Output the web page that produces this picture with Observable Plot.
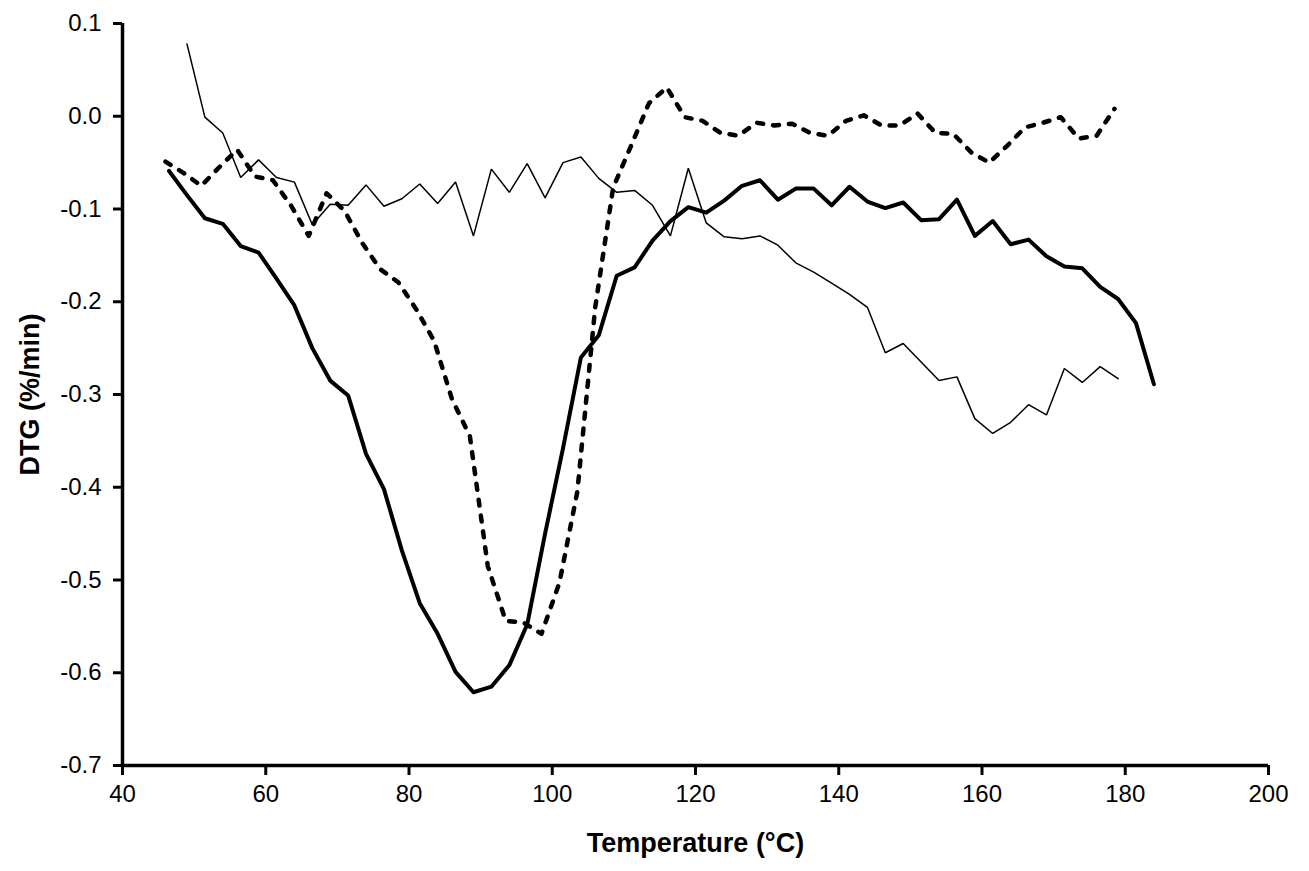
<!DOCTYPE html>
<html>
<head>
<meta charset="utf-8">
<script src="https://cdn.jsdelivr.net/npm/d3@7"></script>
<script src="https://cdn.jsdelivr.net/npm/@observablehq/plot@0.6"></script>
<style>
  html, body { margin: 0; padding: 0; background: #fff; }
  #chart svg { display: block; }
  #chart svg g[aria-label="x-axis tick label"] text,
  #chart svg g[aria-label="y-axis tick label"] text { font-size: 24px; }
</style>
</head>
<body>
<div id="chart"></div>
<script>
// Thick solid series
const tempsA = [46.5,49,51.5,54,56.5,59,61.5,64,66.5,69,71.5,74,76.5,79,81.5,84,86.5,89,91.5,94,96.5,99,101.5,104,106.5,109,111.5,114,116.5,119,121.5,124,126.5,129,131.5,134,136.5,139,141.5,144,146.5,149,151.5,154,156.5,159,161.5,164,166.5,169,171.5,174,176.5,179,181.5,184];
const dtgA = [-0.059,-0.085,-0.110,-0.116,-0.140,-0.147,-0.175,-0.204,-0.250,-0.285,-0.301,-0.364,-0.402,-0.468,-0.525,-0.558,-0.599,-0.621,-0.615,-0.592,-0.548,-0.450,-0.358,-0.260,-0.236,-0.172,-0.163,-0.134,-0.113,-0.098,-0.104,-0.091,-0.075,-0.069,-0.090,-0.078,-0.078,-0.096,-0.076,-0.092,-0.099,-0.093,-0.112,-0.111,-0.090,-0.129,-0.113,-0.138,-0.133,-0.151,-0.162,-0.164,-0.184,-0.197,-0.223,-0.289];

// Thin solid series
const tempsB = [49,51.5,54,56.5,59,61.5,64,66.5,69,71.5,74,76.5,79,81.5,84,86.5,89,91.5,94,96.5,99,101.5,104,106.5,109,111.5,114,116.5,119,121.5,124,126.5,129,131.5,134,136.5,139,141.5,144,146.5,149,151.5,154,156.5,159,161.5,164,166.5,169,171.5,174,176.5,179];
const dtgB = [0.078,-0.001,-0.018,-0.066,-0.047,-0.066,-0.071,-0.117,-0.095,-0.096,-0.074,-0.097,-0.089,-0.073,-0.094,-0.071,-0.129,-0.057,-0.082,-0.051,-0.088,-0.050,-0.044,-0.067,-0.082,-0.080,-0.096,-0.129,-0.056,-0.115,-0.130,-0.132,-0.129,-0.139,-0.158,-0.168,-0.180,-0.192,-0.206,-0.255,-0.245,-0.265,-0.285,-0.281,-0.326,-0.342,-0.330,-0.311,-0.322,-0.272,-0.287,-0.270,-0.283];

// Dashed series
const tempsC = [46,48.5,51,53.5,56,58.5,61,63.5,66,68.5,71,73.5,76,78.5,81,83.5,86,88.5,91,93.5,96,98.5,101,103.5,106,108.5,111,113.5,116,118.5,121,123.5,126,128.5,131,133.5,136,138.5,141,143.5,146,148.5,151,153.5,156,158.5,161,163.5,166,168.5,171,173.5,176,178.5];
const dtgC = [-0.049,-0.061,-0.075,-0.055,-0.036,-0.065,-0.069,-0.096,-0.129,-0.083,-0.102,-0.137,-0.165,-0.179,-0.208,-0.242,-0.305,-0.345,-0.485,-0.544,-0.546,-0.558,-0.503,-0.405,-0.206,-0.077,-0.032,0.014,0.031,-0.001,-0.005,-0.018,-0.021,-0.007,-0.010,-0.008,-0.018,-0.021,-0.005,0.001,-0.010,-0.010,0.003,-0.018,-0.019,-0.039,-0.050,-0.032,-0.012,-0.007,-0.001,-0.024,-0.021,0.008];

// Axis ticks and titles
const xTicks = [40,60,80,100,120,140,160,180,200];
const yTicks = [0.1,0.0,-0.1,-0.2,-0.3,-0.4,-0.5,-0.6,-0.7];
const xTitle = "Temperature (°C)";
const yTitle = "DTG (%/min)";

const fmt = d => (Math.abs(d) < 1e-9 ? 0 : d).toFixed(1);
const FONT = "'Liberation Sans', Arial, sans-serif";

const chart = Plot.plot({
  width: 1309,
  height: 871,
  marginLeft: 122,
  marginRight: 41,
  marginTop: 23,
  marginBottom: 106,
  style: { fontFamily: FONT, fontSize: "24px", background: "#fff", color: "#000" },
  x: { domain: [40, 200] },
  y: { domain: [-0.7, 0.1] },
  marks: [
    Plot.axisX(xTicks, { anchor: "bottom", tickSize: 10, tickPadding: 9, strokeWidth: 3, label: null, tickFormat: d => String(d) }),
    Plot.axisY(yTicks, { anchor: "left", tickSize: 9, tickPadding: 12, strokeWidth: 3, label: null, tickFormat: fmt }),
    Plot.ruleX([40], { stroke: "#000", strokeWidth: 3.5 }),
    Plot.ruleY([-0.7], { stroke: "#000", strokeWidth: 3.5 }),
    Plot.line(dtgB, { x: tempsB, y: dtgB, stroke: "#000", strokeWidth: 1.5, strokeLinejoin: "miter" }),
    Plot.line(dtgC, { x: tempsC, y: dtgC, stroke: "#000", strokeWidth: 4.5, strokeDasharray: "6,10" }),
    Plot.line(dtgA, { x: tempsA, y: dtgA, stroke: "#000", strokeWidth: 4, strokeLinejoin: "round" }),
    Plot.text([xTitle], { frameAnchor: "bottom", dy: 86, textAnchor: "middle", fontWeight: "bold", fontSize: 27 }),
    Plot.text([yTitle], { frameAnchor: "left", dx: -92, rotate: -90, textAnchor: "middle", fontWeight: "bold", fontSize: 27 })
  ]
});
document.getElementById("chart").appendChild(chart);
</script>
</body>
</html>
